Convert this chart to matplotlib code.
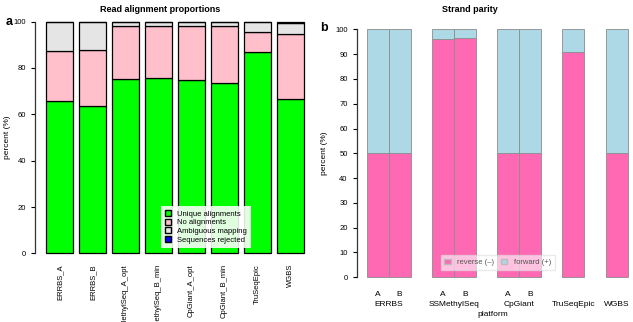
import matplotlib
matplotlib.use("Agg")
import matplotlib.pyplot as plt
import matplotlib.patches as mpatches
import matplotlib.transforms as mtransforms
import numpy as np

# ─── Data ────────────────────────────────────────────────────────────────────

samples = ["ERRBS_A", "ERRBS_B", "SSMethylSeq_A_opt", "SSMethylSeq_B_min",
           "CpGiant_A_opt", "CpGiant_B_min", "TruSeqEpic", "WGBS"]
unique = [65.7, 63.6, 75.4, 75.5, 74.7, 73.4, 87.0, 66.5]
no_align = [21.7, 24.1, 22.8, 22.6, 23.5, 24.8, 8.7, 28.3]
ambiguous = [12.3, 12.0, 1.5, 1.6, 1.5, 1.5, 4.0, 4.6]
rejected = [0.3, 0.3, 0.3, 0.3, 0.3, 0.3, 0.3, 0.3]

strand_bars = ["A", "B", "A", "B", "A", "B", "", ""]
strand_pos = [0.5, 1.5, 3.5, 4.5, 6.5, 7.5, 9.5, 11.5]
reverse = [50.0, 50.0, 96.0, 96.5, 50.0, 50.0, 90.7, 50.0]
forward = [50.0, 50.0, 4.0, 3.5, 50.0, 50.0, 9.3, 50.0]
platforms = ["ERRBS", "SSMethylSeq", "CpGiant", "TruSeqEpic", "WGBS"]
platform_pos = [1.0, 4.0, 7.0, 9.5, 11.5]

# ─── Style ───────────────────────────────────────────────────────────────────

COLORS = {
    "unique": "#00FF00",
    "none": "#FFC0CB",
    "ambig": "#E5E5E5",
    "rej": "#0000FF",
    "reverse": "#FF69B4",
    "forward": "#ADD8E6",
}

plt.rcParams.update({
    "font.family": ["Liberation Sans", "DejaVu Sans"],
    "font.size": 5.5,
    "axes.linewidth": 0.9,
    "xtick.major.size": 3,
    "ytick.major.size": 3,
})

W, H = 633, 322
fig = plt.figure(figsize=(W / 100, H / 100), dpi=100)


def px_axes(x0, x1, y_top, y_bot):
    return fig.add_axes([x0 / W, 1 - y_bot / H, (x1 - x0) / W, (y_bot - y_top) / H])


def r_style(ax):
    for s in ["top", "right", "bottom"]:
        ax.spines[s].set_visible(False)
    ax.spines["left"].set_bounds(0, 100)
    ax.spines["left"].set_color("#333333")


# ─── Panel a — Read alignment proportions ───────────────────────────────────

ax1 = px_axes(35, 309.5, 12.4, 262.6)
x = np.arange(len(samples)) * 1.2 + 0.7
bottom = np.zeros(len(samples))
for vals, key in [(unique, "unique"), (no_align, "none"), (ambiguous, "ambig"), (rejected, "rej")]:
    ax1.bar(x, vals, width=1.0, bottom=bottom, color=COLORS[key],
            edgecolor="black", linewidth=0.9)
    bottom += np.array(vals)

ax1.set_xlim(-0.2, 9.8)
ax1.set_ylim(-4, 104)
ax1.set_yticks(range(0, 101, 20))
ax1.set_xticks([])
r_style(ax1)
ax1.set_ylabel("percent (%)", fontsize=6, labelpad=2)

trans1 = mtransforms.blended_transform_factory(ax1.transData, fig.transFigure)
for xi, name in zip(x, samples):
    ax1.text(xi, 1 - 264 / H, name, rotation=90, ha="center", va="top",
             fontsize=5.5, transform=trans1, clip_on=False)

handles = [
    mpatches.Patch(facecolor=COLORS["unique"], edgecolor="black", label="Unique alignments"),
    mpatches.Patch(facecolor=COLORS["none"], edgecolor="black", label="No alignments"),
    mpatches.Patch(facecolor=COLORS["ambig"], edgecolor="black", label="Ambiguous mapping"),
    mpatches.Patch(facecolor=COLORS["rej"], edgecolor="black", label="Sequences rejected"),
]
leg1 = ax1.legend(handles=handles, loc="lower right", bbox_to_anchor=(0.80, 0.045),
                  fontsize=5.5, frameon=True, framealpha=0.88, edgecolor="none",
                  fancybox=False, handlelength=0.8, handleheight=0.8,
                  handletextpad=0.8, labelspacing=0.15, borderpad=0.5)
leg1.get_frame().set_facecolor("white")

fig.text(160 / W, 1 - 9 / H, "Read alignment proportions", ha="center", va="center",
         fontsize=6.5, fontweight="bold")
fig.text(9 / W, 1 - 22 / H, "a", ha="center", va="center", fontsize=9, fontweight="bold")

# ─── Panel b — Strand parity ─────────────────────────────────────────────────

ax2 = px_axes(356.7, 633, 19.4, 287.2)
ax2.bar(strand_pos, reverse, width=1.0, color=COLORS["reverse"],
        edgecolor="#8C8C8C", linewidth=0.6)
ax2.bar(strand_pos, forward, width=1.0, bottom=reverse, color=COLORS["forward"],
        edgecolor="#8C8C8C", linewidth=0.6)
ax2.set_xlim(-0.48, -0.48 + 276.3 / 21.7)
ax2.set_ylim(-4, 104)
ax2.set_yticks(range(0, 101, 10))
ax2.set_xticks([])
r_style(ax2)
ax2.set_ylabel("percent (%)", fontsize=6, labelpad=5)

trans2 = mtransforms.blended_transform_factory(ax2.transData, fig.transFigure)
for p, lab in zip(strand_pos, strand_bars):
    if lab:
        ax2.text(p, 1 - 295 / H, lab, ha="center", va="center", fontsize=6,
                 transform=trans2, clip_on=False)
for p, lab in zip(platform_pos, platforms):
    ax2.text(p, 1 - 305 / H, lab, ha="center", va="center", fontsize=6,
             transform=trans2, clip_on=False)
fig.text(493 / W, 1 - 314 / H, "platform", ha="center", va="center", fontsize=6)

handles2 = [
    mpatches.Patch(facecolor=COLORS["reverse"], edgecolor="#BBBBBB", label="reverse (\u2013)"),
    mpatches.Patch(facecolor=COLORS["forward"], edgecolor="#BBBBBB", label="forward (+)"),
]
leg2 = ax2.legend(handles=handles2, loc="lower center", bbox_to_anchor=(0.51, 0.05), ncol=2,
                  fontsize=5.5, frameon=True, framealpha=0.6, edgecolor="#DDDDDD",
                  fancybox=False, handlelength=0.8, handleheight=0.8,
                  handletextpad=0.8, columnspacing=1.0, borderpad=0.5)
leg2.get_frame().set_facecolor("white")
for t in leg2.get_texts():
    t.set_color("#555555")

fig.text(470 / W, 1 - 9 / H, "Strand parity", ha="center", va="center",
         fontsize=6.5, fontweight="bold")
fig.text(324 / W, 1 - 28 / H, "b", ha="center", va="center", fontsize=9, fontweight="bold")

fig.savefig("out.png", dpi=100)
